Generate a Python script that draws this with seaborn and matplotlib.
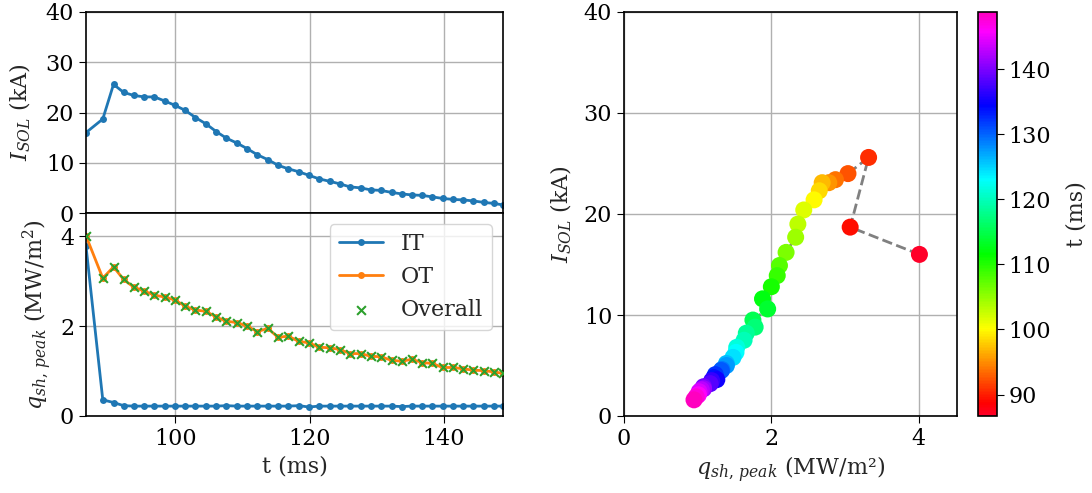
import numpy as np
import pandas as pd
import matplotlib
matplotlib.use("Agg")
import matplotlib.pyplot as plt
import seaborn as sns

t_ms = [86.7, 89.2, 90.8, 92.3, 93.8, 95.4, 96.9, 98.4, 100.0, 101.5, 103.0,
        104.6, 106.1, 107.6, 109.2, 110.7, 112.2, 113.8, 115.3, 116.8, 118.4,
        119.9, 121.4, 123.0, 124.5, 126.0, 127.6, 129.1, 130.6, 132.2, 133.7,
        135.2, 136.8, 138.3, 139.8, 141.4, 142.9, 144.4, 146.0, 147.5, 148.8]

i_sol = [16.0, 18.7, 25.6, 24.0, 23.4, 23.1, 23.1, 22.3, 21.4, 20.4, 19.0,
         17.7, 16.2, 14.9, 13.9, 12.8, 11.6, 10.6, 9.5, 8.8, 8.2,
         7.5, 6.8, 6.3, 5.8, 5.2, 5.0, 4.6, 4.5, 4.1, 3.8,
         3.6, 3.5, 3.2, 2.9, 2.7, 2.6, 2.4, 2.1, 1.9, 1.6]

q_it = [3.78, 0.36, 0.30, 0.23, 0.22, 0.22, 0.22, 0.22, 0.22, 0.22, 0.22,
        0.22, 0.22, 0.23, 0.22, 0.22, 0.22, 0.22, 0.22, 0.22, 0.23,
        0.20, 0.22, 0.22, 0.22, 0.22, 0.22, 0.22, 0.22, 0.22, 0.21,
        0.22, 0.22, 0.22, 0.22, 0.22, 0.22, 0.22, 0.22, 0.22, 0.22]

q_ot = [4.01, 3.07, 3.32, 3.04, 2.87, 2.78, 2.69, 2.65, 2.58, 2.44, 2.36,
        2.33, 2.20, 2.11, 2.08, 2.00, 1.88, 1.95, 1.75, 1.78, 1.66,
        1.63, 1.53, 1.52, 1.48, 1.39, 1.39, 1.33, 1.32, 1.24, 1.22,
        1.26, 1.19, 1.17, 1.08, 1.08, 1.05, 1.02, 1.01, 0.98, 0.95]

q_overall = np.maximum(np.array(q_it), np.array(q_ot))

df = pd.DataFrame({"t": t_ms, "isol": i_sol, "it": q_it, "ot": q_ot,
                   "overall": q_overall})

sns.set_style("ticks")
plt.rcParams["font.family"] = ["DejaVu Serif"]
plt.rcParams["mathtext.fontset"] = "dejavuserif"
plt.rcParams["font.size"] = 16
plt.rcParams["axes.grid"] = True
plt.rcParams["grid.color"] = "#b0b0b0"
plt.rcParams["grid.linewidth"] = 1.0
plt.rcParams["axes.edgecolor"] = "black"
plt.rcParams["axes.linewidth"] = 1.2
plt.rcParams["xtick.color"] = "black"
plt.rcParams["ytick.color"] = "black"
plt.rcParams["xtick.major.size"] = 5
plt.rcParams["ytick.major.size"] = 5

fig = plt.figure(figsize=(10.92, 4.93), dpi=100)
W, H = 1092, 493
ax1 = fig.add_axes([86 / W, 1 - 213 / H, (503 - 86) / W, (213 - 12) / H])
ax2 = fig.add_axes([86 / W, 1 - 416 / H, (503 - 86) / W, (416 - 213) / H], sharex=ax1)
ax3 = fig.add_axes([624 / W, 1 - 416 / H, (957 - 624) / W, (416 - 12) / H])
cax = fig.add_axes([978 / W, 1 - 416 / H, (997 - 978) / W, (416 - 12) / H])

c_blue, c_orange, c_green = "#1f77b4", "#ff7f0e", "#2ca02c"

sns.lineplot(data=df, x="t", y="isol", ax=ax1, color=c_blue, marker="o",
             markersize=5, markeredgewidth=0, linewidth=2, sort=False)
ax1.set_ylim(0, 40)
ax1.set_yticks([0, 10, 20, 30, 40])
ax1.set_ylabel(r"$I_{SOL}$ (kA)", labelpad=9)
ax1.set_xlabel("")
ax1.tick_params(labelbottom=False)

sns.lineplot(data=df, x="t", y="it", ax=ax2, color=c_blue, marker="o",
             markersize=5, markeredgewidth=0, linewidth=2, sort=False, label="IT")
sns.lineplot(data=df, x="t", y="ot", ax=ax2, color=c_orange, marker="o",
             markersize=5, markeredgewidth=0, linewidth=2, sort=False, label="OT")
sns.scatterplot(data=df, x="t", y="overall", ax=ax2, color=c_green, marker="x",
                s=40, linewidth=1.5, label="Overall", zorder=3)
ax2.set_ylim(0, 4.52)
ax2.set_yticks([0, 2, 4])
ax2.set_xlim(min(t_ms), max(t_ms))
ax2.set_xticks([100, 120, 140])
ax2.set_xlabel("t (ms)")
ax2.set_ylabel(r"$q_{sh,\,peak}$ (MW/m$^2$)")
ax2.legend(loc="upper right", fontsize=16, framealpha=0.8, handlelength=2,
           borderaxespad=0.5)

ax3.plot(df["overall"], df["isol"], color="gray", linestyle="--", linewidth=2,
         zorder=1)
norm = plt.Normalize(min(t_ms), max(t_ms))
sns.scatterplot(data=df, x="overall", y="isol", hue="t", palette="gist_rainbow",
                hue_norm=norm, s=150, linewidth=0, legend=False, ax=ax3, zorder=2)
ax3.set_xlim(0, 4.52)
ax3.set_ylim(0, 40)
ax3.set_xticks([0, 2, 4])
ax3.set_yticks([0, 10, 20, 30, 40])
ax3.set_xlabel(r"$q_{sh,\,peak}$ (MW/m²)")
ax3.set_ylabel(r"$I_{SOL}$ (kA)", labelpad=7)

sm = matplotlib.cm.ScalarMappable(norm=norm, cmap="gist_rainbow")
cb = fig.colorbar(sm, cax=cax)
cb.set_ticks([90, 100, 110, 120, 130, 140])
cb.set_label("t (ms)", labelpad=10)

fig.savefig("out.png", dpi=100)
